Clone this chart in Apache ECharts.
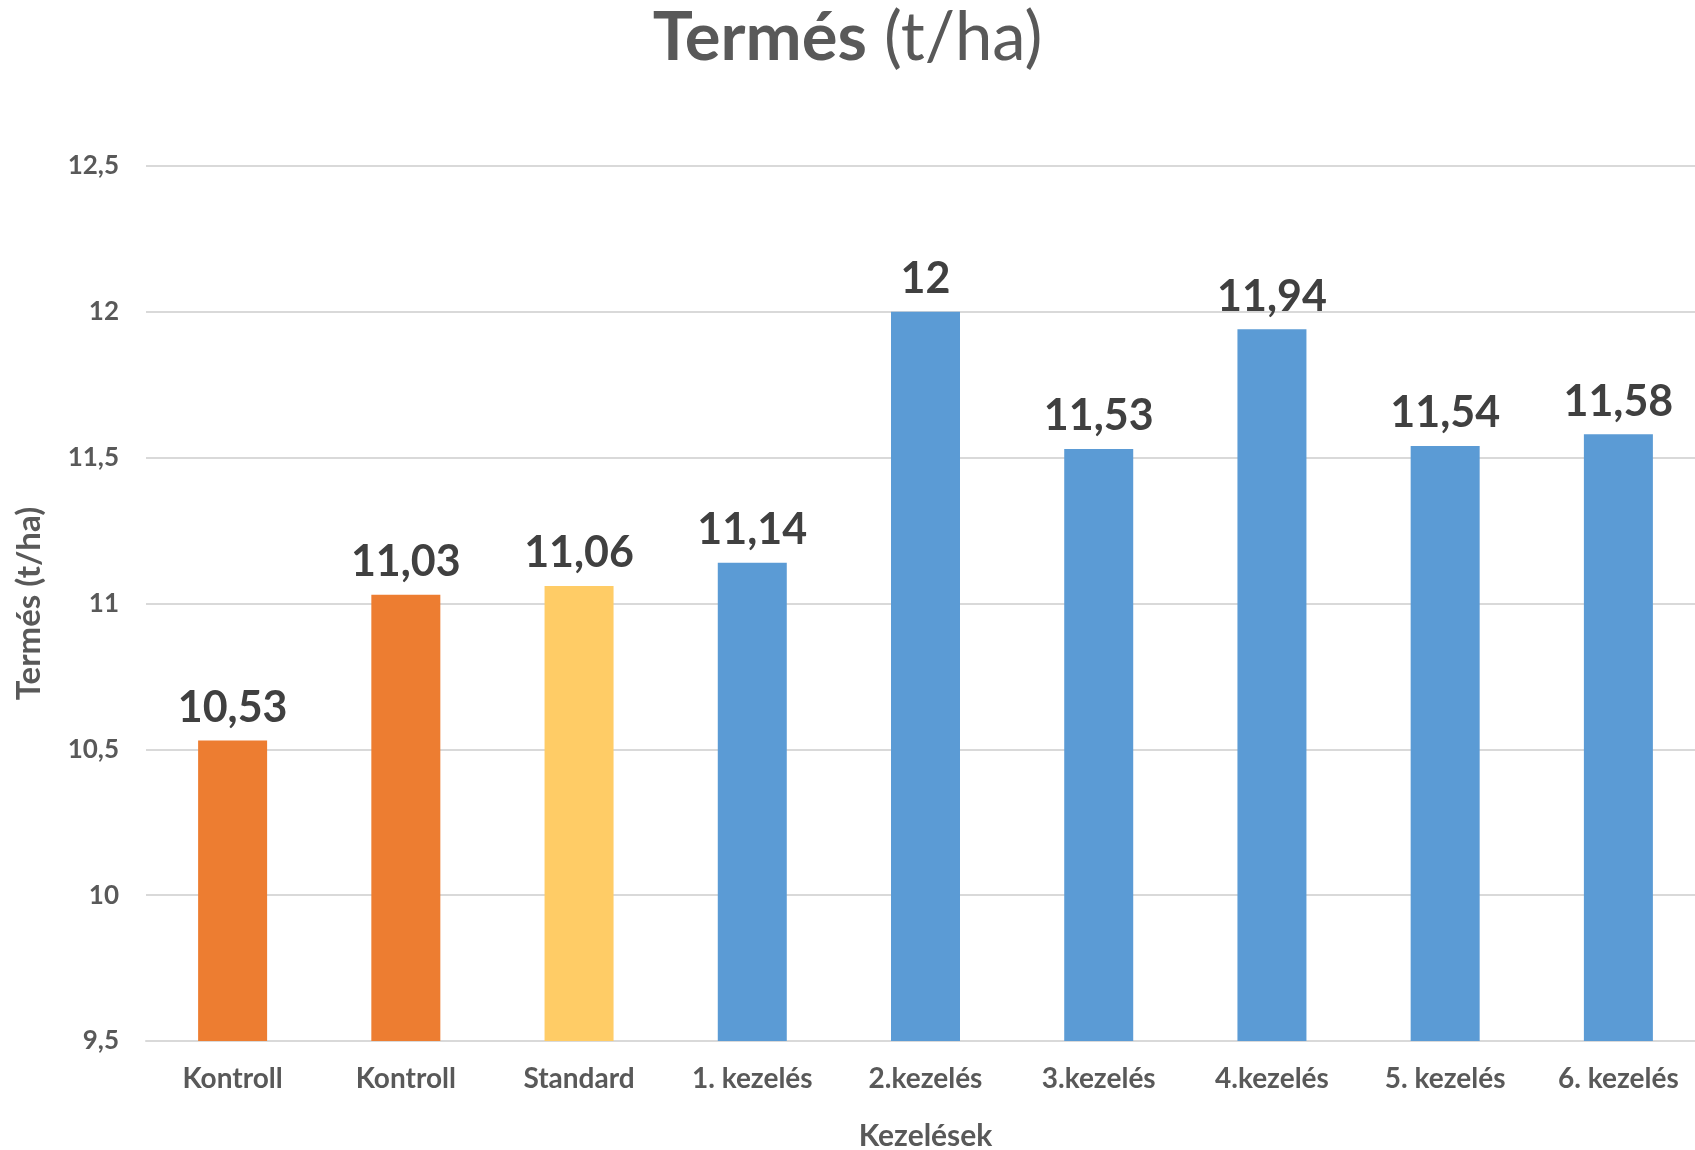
<!DOCTYPE html>
<html>
<head>
<meta charset="utf-8">
<script src="https://cdn.jsdelivr.net/npm/echarts@6/dist/echarts.min.js"></script>
<style>
html,body{margin:0;padding:0;background:#fff;}
#chart{width:1695px;height:1150px;}
</style>
</head>
<body>
<div id="chart"></div>
<script>
var categories = ['Kontroll', 'Kontroll', 'Standard', '1. kezelés', '2.kezelés', '3.kezelés', '4.kezelés', '5. kezelés', '6. kezelés'];
var yields = [10.53, 11.03, 11.06, 11.14, 12, 11.53, 11.94, 11.54, 11.58];
var barColors = ['#ED7D31', '#ED7D31', '#FFCC66', '#5B9BD5', '#5B9BD5', '#5B9BD5', '#5B9BD5', '#5B9BD5', '#5B9BD5'];

function comma(v) {
    return String(v).replace('.', ',');
}

var chart = echarts.init(document.getElementById('chart'));
var font = 'Lato, "Open Sans", sans-serif';

var barData = [];
for (var i = 0; i < yields.length; i++) {
    barData.push({value: yields[i], itemStyle: {color: barColors[i]}});
}

var option = {
    animation: false,
    title: {
        left: 'center',
        top: 0,
        text: '{b|Termés}{n|\u00a0(t/ha)}',
        textStyle: {
            rich: {
                b: {fontFamily: font, fontWeight: 'bold', fontSize: 67, color: '#595959'},
                n: {fontFamily: font, fontWeight: 'normal', fontSize: 67, color: '#595959'}
            }
        }
    },
    grid: {left: 146, right: -10, top: 166, bottom: 109, outerBoundsMode: 'none', containLabel: false},
    xAxis: {
        type: 'category',
        data: categories,
        name: 'Kezelések',
        nameLocation: 'middle',
        nameGap: 80,
        nameTextStyle: {fontFamily: font, fontWeight: 'bold', fontSize: 30, color: '#595959'},
        axisLine: {lineStyle: {color: '#d9d9d9', width: 2}},
        axisTick: {show: false},
        axisLabel: {fontFamily: font, fontWeight: 'bold', fontSize: 28, color: '#595959', margin: 24}
    },
    yAxis: {
        type: 'value',
        min: 9.5,
        max: 12.5,
        interval: 0.5,
        name: 'Termés (t/ha)',
        nameLocation: 'middle',
        nameGap: 100,
        nameTextStyle: {fontFamily: font, fontWeight: 'bold', fontSize: 33, color: '#595959'},
        axisLine: {show: false},
        axisTick: {show: false},
        splitLine: {lineStyle: {color: '#d9d9d9', width: 2}},
        axisLabel: {
            fontFamily: font, fontWeight: 'bold', fontSize: 26, color: '#595959', margin: 27,
            formatter: function (v) { return comma(v); }
        }
    },
    series: [{
        type: 'bar',
        data: barData,
        barWidth: 69,
        label: {
            show: true,
            position: 'top',
            distance: 11,
            fontFamily: font,
            fontWeight: 'bold',
            fontSize: 43,
            color: '#404040',
            formatter: function (p) { return comma(p.value); }
        }
    }]
};
chart.setOption(option);
</script>
</body>
</html>
